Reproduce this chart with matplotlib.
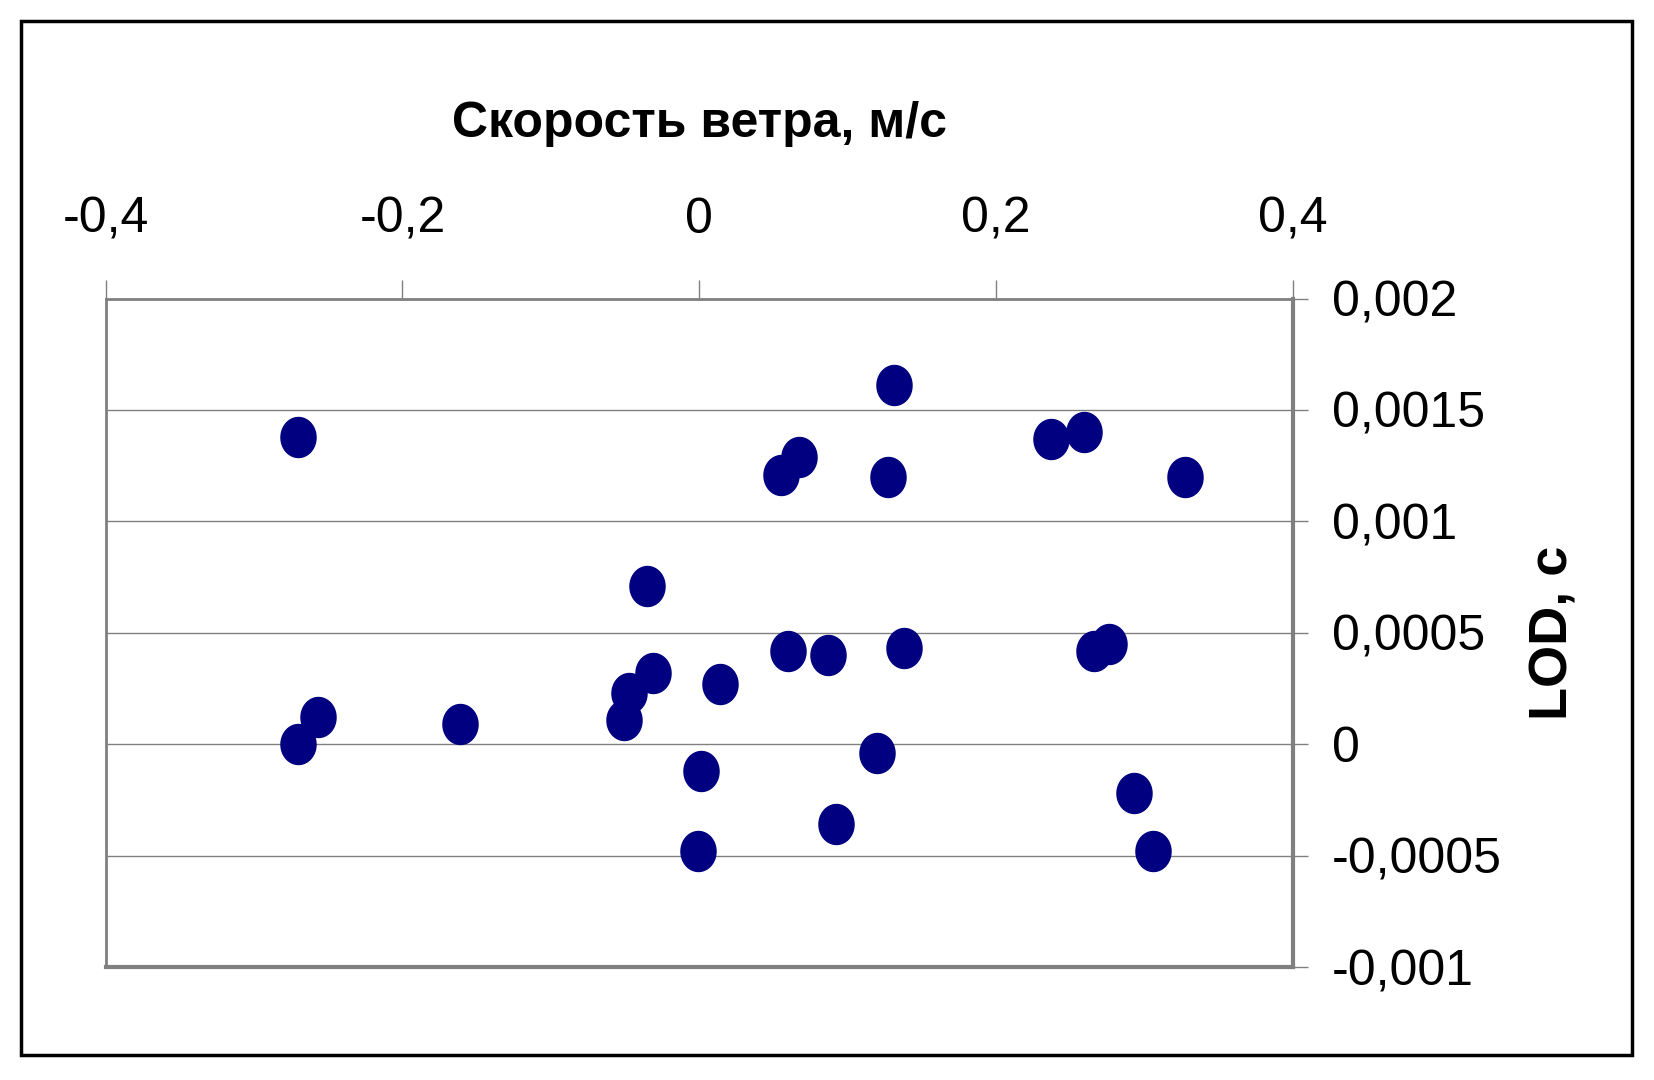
import numpy as np
import matplotlib.pyplot as plt
from matplotlib.path import Path
from matplotlib.patches import Rectangle
from matplotlib.ticker import FixedLocator, FuncFormatter

plt.rcParams['font.family'] = ['Liberation Sans', 'DejaVu Sans']

# Данные
wind = [-0.270, -0.270, -0.257, -0.161, -0.051, -0.047, -0.031, -0.035, 0.014,
        0.001, -0.001, 0.055, 0.067, 0.060, 0.087, 0.092, 0.131, 0.127, 0.138,
        0.120, 0.237, 0.259, 0.266, 0.276, 0.293, 0.306, 0.327]
lod = [0.00138, 0.0, 0.00012, 0.00009, 0.00011, 0.00023, 0.00032, 0.00071, 0.00027,
       -0.00012, -0.00048, 0.00121, 0.00129, 0.00042, 0.00040, -0.00036, 0.00161, 0.00120, 0.00043,
       -0.00004, 0.00137, 0.00140, 0.00042, 0.00045, -0.00022, -0.00048, 0.00120]
xticks = [-0.4, -0.2, 0, 0.2, 0.4]
yticks = [-0.001, -0.0005, 0, 0.0005, 0.001, 0.0015, 0.002]

def comma(v, pos):
    return ('%g' % round(v, 6)).replace('.', ',')

# эллипс чуть вытянутый по вертикали
t = np.linspace(0, 2*np.pi, 60)
ell = Path(np.column_stack([np.cos(t)/1.14, np.sin(t)]), closed=True)

fig = plt.figure(figsize=(16.54, 10.8), dpi=100)
fig.patches.append(Rectangle((21/1654, 1-1055/1080), (1632-21)/1654, (1055-21)/1080,
                             transform=fig.transFigure, fill=False, ec='black', lw=2.5))

ax = fig.add_axes([105.5/1654, 1-967/1080, (1293-105.5)/1654, (967-298.5)/1080])
ax.plot(wind, lod, ls='none', marker=ell, ms=28.8, color='#000080', mec='#000080')

ax.set_xlim(-0.4, 0.4)
ax.set_ylim(-0.001, 0.002)
ax.xaxis.set_major_locator(FixedLocator(xticks))
ax.yaxis.set_major_locator(FixedLocator(yticks))
ax.xaxis.set_major_formatter(FuncFormatter(comma))
ax.yaxis.set_major_formatter(FuncFormatter(comma))
ax.xaxis.tick_top()
ax.yaxis.tick_right()
ax.tick_params(axis='x', direction='out', length=14, width=1, color='#808080',
               labelsize=36, pad=26)
ax.tick_params(axis='y', direction='out', length=11, width=1, color='#808080',
               labelsize=36, pad=17)
ax.grid(axis='y', color='#808080', lw=1)
ax.set_axisbelow(True)
for s in ax.spines.values():
    s.set_color('#808080')
    s.set_linewidth(2)
ax.spines['bottom'].set_linewidth(3)
ax.spines['right'].set_linewidth(3)

fig.text(699/1654, 1-137/1080, 'Скорость ветра, м/с', ha='center', va='baseline',
         fontsize=36, fontweight='bold')
fig.text(1553/1654, 1-633/1080, 'LOD, с', ha='center', va='center', rotation=90,
         fontsize=39, fontweight='bold')

fig.savefig('out.png', dpi=100)
